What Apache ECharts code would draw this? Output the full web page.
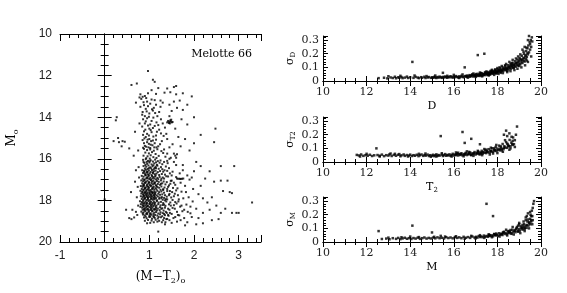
<!DOCTYPE html>
<html><head><meta charset="utf-8">
<script src="https://cdn.jsdelivr.net/npm/echarts@6/dist/echarts.min.js"></script>
<style>html,body{margin:0;padding:0;background:#fff}#c{width:567px;height:293px}</style>
</head><body><div id="c"></div>
<script>
// ---- Data ----
// CMD of Melotte 66: [colour (M-T2)o, magnitude Mo]
const cmdStars = [
[0.88,15.52],[0.95,15.58],[1.02,15.55],[1.10,15.61],[1.18,15.54],[1.27,15.63],[0.91,15.70],[0.99,15.74],[1.06,15.68],[1.14,15.77],[1.31,15.72],[0.87,15.85],[0.96,15.88],[1.03,15.83],[1.09,15.92],[1.21,15.86],[1.36,15.90],[0.93,15.97],[1.01,15.99],[1.16,15.96],
[0.86,16.05],[0.92,16.02],[0.97,16.10],[1.03,16.07],[1.08,16.13],[1.13,16.04],[1.19,16.11],[1.25,16.08],[1.33,16.15],[0.89,16.20],[0.95,16.24],[1.00,16.18],[1.05,16.27],[1.11,16.22],[1.17,16.29],[1.23,16.19],[1.29,16.26],[1.41,16.21],[0.87,16.35],[0.93,16.38],[0.98,16.32],[1.02,16.41],[1.07,16.36],[1.12,16.44],[1.18,16.33],[1.26,16.40],[1.37,16.37],[0.90,16.47],[0.96,16.49],[1.04,16.46],[1.10,16.50],[1.21,16.48],
[0.84,16.55],[0.88,16.58],[0.92,16.53],[0.95,16.61],[0.99,16.56],[1.03,16.63],[1.06,16.54],[1.10,16.60],[1.14,16.57],[1.19,16.64],[1.24,16.59],[1.31,16.62],[1.40,16.58],[0.86,16.68],[0.90,16.72],[0.94,16.67],[0.97,16.75],[1.01,16.70],[1.05,16.77],[1.08,16.69],[1.12,16.74],[1.16,16.71],[1.22,16.78],[1.28,16.73],[1.35,16.76],[1.46,16.70],[0.83,16.82],[0.87,16.86],[0.91,16.80],[0.95,16.89],[0.98,16.84],[1.02,16.91],[1.06,16.83],[1.09,16.88],[1.13,16.85],[1.18,16.92],[1.23,16.87],[1.30,16.90],[1.38,16.84],[0.85,16.96],[0.89,16.99],[0.93,16.94],[1.00,16.97],[1.04,17.00],[1.11,16.95],[1.20,16.98],[1.27,16.96],
[0.82,17.04],[0.86,17.08],[0.89,17.02],[0.93,17.10],[0.96,17.05],[0.99,17.12],[1.03,17.03],[1.06,17.09],[1.09,17.06],[1.13,17.13],[1.17,17.07],[1.21,17.11],[1.26,17.04],[1.32,17.09],[1.39,17.12],[1.48,17.06],[0.84,17.18],[0.88,17.22],[0.91,17.16],[0.95,17.24],[0.98,17.19],[1.01,17.26],[1.05,17.17],[1.08,17.23],[1.12,17.20],[1.15,17.27],[1.19,17.21],[1.24,17.25],[1.29,17.18],[1.36,17.23],[1.44,17.28],[0.81,17.31],[0.85,17.35],[0.88,17.30],[0.92,17.38],[0.96,17.33],[0.99,17.40],[1.03,17.32],[1.07,17.37],[1.10,17.34],[1.14,17.41],[1.18,17.36],[1.22,17.39],[1.27,17.33],[1.34,17.38],[1.42,17.35],[0.83,17.45],[0.87,17.48],[0.90,17.44],[0.94,17.49],[0.97,17.46],[1.02,17.50],[1.06,17.45],[1.11,17.48],[1.16,17.47],[1.25,17.49],[1.31,17.46],
[0.80,17.54],[0.84,17.58],[0.87,17.52],[0.90,17.60],[0.93,17.55],[0.96,17.62],[0.99,17.53],[1.02,17.59],[1.05,17.56],[1.08,17.63],[1.11,17.57],[1.14,17.61],[1.18,17.54],[1.22,17.60],[1.27,17.57],[1.33,17.63],[1.40,17.55],[1.51,17.60],[0.82,17.67],[0.86,17.71],[0.89,17.66],[0.92,17.73],[0.95,17.68],[0.98,17.75],[1.01,17.69],[1.04,17.72],[1.07,17.67],[1.10,17.74],[1.13,17.70],[1.16,17.76],[1.20,17.68],[1.24,17.73],[1.29,17.71],[1.35,17.75],[1.45,17.69],[0.81,17.80],[0.85,17.84],[0.88,17.79],[0.91,17.86],[0.94,17.81],[0.97,17.88],[1.00,17.82],[1.03,17.85],[1.06,17.80],[1.09,17.87],[1.12,17.83],[1.15,17.89],[1.19,17.81],[1.23,17.86],[1.28,17.84],[1.33,17.88],[1.39,17.82],[1.49,17.86],[0.83,17.93],[0.87,17.96],[0.90,17.92],[0.94,17.98],[0.97,17.94],[1.01,17.99],[1.04,17.93],[1.08,17.97],[1.12,17.95],[1.17,17.99],[1.22,17.92],[1.30,17.97],[1.37,17.94],
[0.79,18.04],[0.83,18.08],[0.86,18.02],[0.89,18.10],[0.92,18.05],[0.95,18.12],[0.98,18.03],[1.01,18.09],[1.04,18.06],[1.07,18.13],[1.10,18.07],[1.13,18.11],[1.17,18.04],[1.21,18.10],[1.26,18.07],[1.31,18.13],[1.38,18.05],[1.47,18.10],[1.58,18.08],[0.81,18.18],[0.85,18.22],[0.88,18.16],[0.91,18.24],[0.94,18.19],[0.97,18.26],[1.00,18.17],[1.03,18.23],[1.06,18.20],[1.09,18.27],[1.12,18.21],[1.16,18.25],[1.20,18.18],[1.25,18.24],[1.30,18.22],[1.36,18.26],[1.44,18.19],[1.55,18.23],[0.80,18.31],[0.84,18.35],[0.87,18.30],[0.90,18.38],[0.93,18.33],[0.96,18.40],[1.00,18.32],[1.03,18.37],[1.07,18.34],[1.11,18.41],[1.15,18.36],[1.19,18.39],[1.24,18.33],[1.29,18.38],[1.35,18.35],[1.42,18.40],[1.52,18.36],[0.85,18.45],[0.89,18.48],[0.93,18.44],[0.98,18.49],[1.02,18.46],[1.06,18.50],[1.11,18.45],[1.17,18.48],[1.23,18.47],[1.32,18.49],
[0.82,18.54],[0.87,18.58],[0.91,18.52],[0.95,18.60],[0.99,18.55],[1.03,18.62],[1.07,18.53],[1.11,18.59],[1.15,18.56],[1.20,18.63],[1.25,18.57],[1.30,18.61],[1.37,18.55],[1.46,18.60],[0.86,18.68],[0.90,18.72],[0.95,18.66],[1.00,18.74],[1.04,18.69],[1.09,18.75],[1.13,18.70],[1.18,18.73],[1.24,18.67],[1.29,18.76],[1.35,18.71],[1.43,18.74],[0.88,18.82],[0.94,18.86],[1.00,18.80],[1.06,18.88],[1.12,18.84],[1.19,18.87],[1.26,18.81],[1.33,18.85],[1.40,18.89],[0.97,18.94],[1.05,18.97],[1.14,18.93],[1.22,18.98],[1.31,18.95],
[1.52,16.62],[1.60,16.88],[1.55,17.15],[1.63,17.42],[1.57,17.68],[1.66,17.95],[1.61,18.15],[1.69,18.30],[1.74,18.52],[1.64,18.70],[1.78,18.45],[1.83,18.20],[1.88,17.85],[1.72,17.58],[1.80,17.30],[1.92,18.62],[1.97,18.05],[1.54,18.85],[1.62,19.02],[1.50,19.08],[1.70,18.95],
[0.72,17.85],[0.75,18.25],[0.70,18.55],[0.66,18.82],[0.62,18.45],[0.74,17.35],[0.77,16.90],[0.76,16.40],[0.55,18.85],[0.68,17.10],[0.73,18.70],[0.59,17.60],
[0.85,13.02],[0.90,12.98],[0.78,13.05],[0.95,13.25],[0.88,13.42],[1.02,13.35],[1.12,13.18],[1.25,13.50],[0.92,13.60],[0.85,13.75],[1.00,13.82],[1.08,13.68],[1.18,13.95],[0.95,14.05],[1.05,14.18],[0.90,14.30],[1.12,14.42],[1.00,14.55],[0.88,14.68],[0.95,14.80],[1.05,14.72],[1.15,14.88],[1.22,14.60],[0.92,14.95],[1.00,15.05],[1.08,15.12],[0.95,15.20],[1.03,15.32],[1.12,15.25],[1.20,15.40],[0.90,15.38],[0.98,15.45],[1.28,15.15],[1.32,14.90],[0.85,15.10],[1.10,13.55],[0.97,12.85],[0.90,13.95],[1.16,14.25],[1.26,14.10],[1.35,14.50],[1.40,15.05],[1.30,13.30],[1.34,12.82],[1.45,13.40],[1.55,13.25],[1.62,13.55],
[1.42,14.18],[1.45,14.22],[1.48,14.20],[1.44,14.28],[1.50,14.25],[1.47,14.15],[1.52,14.23],[1.40,14.25],[1.46,14.30],[1.49,14.12],
[0.97,11.78],[1.08,12.20],[1.12,12.30],[0.72,12.38],[0.60,12.45],[1.20,12.60],[1.40,12.62],[1.55,12.55],[1.60,12.50],[1.75,12.85],[1.47,12.80],[1.15,12.88],[1.05,12.70],[0.80,12.90],[1.95,13.00],[1.68,13.20],[1.75,13.65],[1.85,14.35],[2.00,14.00],[2.00,15.25],[2.45,15.20],[2.48,14.55],[2.15,14.85],[1.90,15.60],[1.62,15.78],[1.75,16.30],[2.05,16.15],[2.15,16.35],[2.60,16.35],[2.90,16.35],[2.00,16.60],[2.25,16.95],[2.45,17.10],[2.60,17.05],[2.75,17.05],[2.65,17.55],[2.40,17.85],[2.85,17.65],[2.20,17.90],[2.30,18.10],[2.50,18.25],[2.60,18.60],[2.70,18.40],[2.85,18.60],[2.95,18.60],[3.00,18.60],[3.30,18.10],[2.10,18.85],[2.40,18.95],[2.20,19.10],[2.05,19.15],[1.80,19.20],[1.20,19.50],[1.35,19.15],[0.95,19.10],[0.60,18.90],[0.48,18.45],[0.00,17.95],[0.27,14.00],[0.25,14.15],[0.30,15.00],[0.32,15.20],[0.38,15.40],[0.45,15.18],[0.40,15.15],[0.20,15.15],[0.65,15.85],[0.55,15.50],[0.70,16.55],[0.78,14.30],[2.80,17.60],[1.90,17.00],[1.58,15.85],[1.60,15.95],[1.55,15.75],
[1.62,16.95],[1.65,16.96],[1.68,16.96],[1.70,16.97],[1.73,16.96],[1.76,16.95],
[0.82,13.12],[0.93,13.08],[1.05,13.15],[0.87,13.28],[1.15,13.40],[0.80,13.50],[0.97,13.47],[1.06,13.62],[0.84,13.88],[0.94,13.72],[1.13,13.80],[1.22,13.75],[0.99,13.98],[1.09,14.02],[0.86,14.10],[0.92,14.20],[1.02,14.35],[1.20,14.38],[0.84,14.45],[0.97,14.40],[1.08,14.52],[0.91,14.60],[1.03,14.62],[1.17,14.70],[0.86,14.85],[0.99,14.88],[1.09,14.93],[1.26,14.78],[0.89,15.02],[0.96,15.08],[1.04,15.15],[1.15,15.08],[0.88,15.25],[0.99,15.28],[1.07,15.35],[1.16,15.45],[0.93,15.42],[1.02,15.48],[1.11,15.45],[0.86,15.47],[1.24,15.30],[1.33,15.55],[1.40,15.75],[1.45,15.45],[1.38,14.80],[1.30,14.30],[1.25,13.20],[1.45,13.95],[1.58,14.55],[1.65,14.95],[1.52,15.30],[1.70,15.40],[1.80,15.05],[1.72,14.10],[1.50,13.70],[1.60,12.90],[1.85,13.40],[0.70,13.30],[0.68,14.70],[0.75,15.60],[1.95,16.90],[1.45,16.00],
[1.44,16.45],[1.50,16.80],[1.47,17.20],[1.53,17.40],[1.58,17.25],[1.46,17.55],[1.55,17.80],[1.60,17.52],[1.52,17.98],[1.65,18.05],[1.48,18.25],[1.57,18.40],[1.62,18.55],[1.50,18.65],[1.58,18.80],[1.45,18.95],[1.67,18.72],[1.72,18.25],[1.76,17.90],[1.82,17.60],[1.70,17.15],[1.86,18.55],[1.92,18.30],[1.78,18.85],[1.85,19.05],[1.95,18.80],[1.68,16.70],[1.75,16.55],[1.85,16.80],[1.42,18.70],[1.38,18.90],[1.36,19.05],[1.28,19.05],[1.18,19.02],[1.10,19.05],[1.02,19.08],[0.90,18.98],[1.60,16.30],[1.55,16.15],[1.48,15.95],[1.40,16.10],[1.34,16.55],[1.42,16.85],[1.40,17.45],[1.35,18.00],[1.45,18.45],[1.33,18.65],[1.50,17.05],[1.64,17.75],[2.10,17.70],[2.05,18.40],[2.20,18.60],[2.35,18.45],[2.55,18.90],[2.15,17.30],[2.35,16.60],[1.98,17.45],
[0.87,16.15],[0.94,16.15],[1.01,16.12],[1.15,16.17],[0.91,16.30],[1.09,16.31],[1.14,16.38],[0.99,16.45],[1.15,16.45],[0.89,16.63],[0.96,16.64],[1.08,16.65],[0.92,16.78],[0.99,16.79],[1.14,16.80],[0.96,16.93],[1.07,16.94],[1.15,16.99],[0.90,17.13],[1.00,17.15],[1.11,17.16],[0.86,17.27],[0.94,17.29],[1.04,17.28],[1.16,17.31],[0.90,17.40],[0.98,17.35],[1.08,17.42],[0.85,17.62],[0.92,17.64],[1.00,17.64],[1.06,17.61],[1.12,17.65],[0.87,17.75],[0.94,17.76],[1.03,17.77],[1.11,17.78],[0.89,17.89],[0.96,17.84],[1.05,17.90],[1.11,17.90],[0.85,18.13],[0.93,18.14],[1.02,18.15],[1.11,18.16],[0.87,18.27],[0.95,18.28],[1.04,18.29],[1.14,18.30],[0.88,18.42],[0.97,18.43],[1.05,18.42],[1.14,18.44],[0.85,18.62],[0.93,18.64],[1.01,18.65],[1.09,18.66],[0.92,18.78],[1.02,18.78],[1.10,18.80],[1.21,18.80],[1.27,18.40],[1.33,18.20],[1.27,17.90],[1.31,17.50],[1.26,17.20],[1.33,16.95],[1.29,16.50],[1.39,18.60],[1.40,17.95],[1.44,17.75]
];
// Photometric errors: [magnitude, sigma]
const errD = [
[12.55,0.021],[12.80,0.024],[12.95,0.019],[13.10,0.026],[13.20,0.022],[13.30,0.031],[13.35,0.020],[13.45,0.027],[13.50,0.024],[13.60,0.029],[13.65,0.021],[13.75,0.025],[13.85,0.032],[13.90,0.022],[14.00,0.027],[14.10,0.140],[14.15,0.023],[14.25,0.030],[14.35,0.025],[14.40,0.021],[14.50,0.028],[14.55,0.024],[14.65,0.031],[14.70,0.022],[14.80,0.026],[14.85,0.029],[14.95,0.023],[15.00,0.027],
[15.05,0.024],[15.10,0.030],[15.15,0.026],[15.20,0.022],[15.25,0.029],[15.30,0.025],[15.35,0.032],[15.40,0.027],[15.45,0.023],[15.50,0.030],[15.55,0.026],[15.60,0.033],[15.65,0.028],[15.70,0.024],[15.75,0.031],[15.80,0.027],[15.85,0.035],[15.90,0.029],[15.95,0.025],[16.00,0.032],[16.05,0.028],[16.10,0.036],[16.15,0.030],[16.20,0.026],[16.25,0.034],[16.30,0.029],[16.35,0.038],[16.40,0.031],[16.45,0.027],[16.50,0.100],[16.50,0.036],[15.50,0.060],
[16.55,0.033],[16.60,0.040],[16.62,0.029],[16.68,0.036],[16.72,0.043],[16.75,0.031],[16.80,0.038],[16.85,0.046],[16.88,0.033],[16.92,0.041],[16.96,0.036],[17.00,0.049],[17.03,0.035],[17.07,0.043],[17.10,0.190],[17.12,0.039],[17.15,0.052],[17.18,0.037],[17.22,0.046],[17.25,0.041],[17.28,0.056],[17.32,0.040],[17.35,0.050],[17.38,0.045],[17.40,0.200],[17.42,0.060],[17.45,0.043],[17.48,0.054],
[17.52,0.048],[17.55,0.064],[17.58,0.046],[17.60,0.057],[17.63,0.052],[17.66,0.069],[17.68,0.050],[17.71,0.062],[17.74,0.056],[17.77,0.074],[17.80,0.054],[17.83,0.067],[17.86,0.060],[17.89,0.080],[17.92,0.058],[17.95,0.072],[17.98,0.065],[18.00,0.086],[18.03,0.063],[18.06,0.078],[18.09,0.070],[18.12,0.093],[18.15,0.068],[18.18,0.084],[18.21,0.076],[18.24,0.100],[18.27,0.073],[18.30,0.090],[18.33,0.082],[18.36,0.108],[18.39,0.079],[18.42,0.097],[18.45,0.088],[18.48,0.116],
[18.51,0.085],[18.54,0.104],[18.57,0.095],[18.60,0.125],[18.62,0.090],[18.65,0.112],[18.68,0.102],[18.70,0.134],[18.73,0.097],[18.76,0.120],[18.79,0.110],[18.82,0.145],[18.84,0.105],[18.87,0.130],[18.90,0.118],[18.92,0.158],[18.95,0.113],[18.97,0.140],
[19.00,0.127],[19.02,0.170],[19.05,0.122],[19.08,0.152],[19.10,0.137],[19.12,0.185],[19.15,0.132],[19.18,0.165],[19.20,0.148],[19.22,0.200],[19.25,0.143],[19.28,0.180],[19.30,0.160],[19.32,0.220],[19.35,0.175],[19.38,0.240],[19.40,0.195],[19.42,0.260],[19.45,0.210],[19.48,0.285],[19.50,0.230],[19.53,0.300],[19.55,0.250],[19.58,0.320],[19.25,0.250],[19.40,0.300],[19.45,0.330],
[17.54,0.055],[17.62,0.060],[17.70,0.058],[17.78,0.065],[17.86,0.070],[17.94,0.066],[18.02,0.075],[18.10,0.080],[18.18,0.078],[18.26,0.088],[18.34,0.093],[18.42,0.090],[18.50,0.100],[18.58,0.110],[18.66,0.118],[18.74,0.115],[18.82,0.128],[18.90,0.135],[18.98,0.150],[19.06,0.160],[19.14,0.155],[19.22,0.170],[19.30,0.190],[19.38,0.205],[16.58,0.035],[16.78,0.040],[16.98,0.042],[17.18,0.045],[17.38,0.050],
[13.00,0.035],[13.55,0.038],[14.20,0.040],[14.75,0.036],[15.15,0.040],[15.70,0.038],[16.00,0.045],[16.25,0.022],[16.40,0.048],[16.65,0.025],[16.90,0.055],[17.00,0.030],[17.20,0.062],[17.30,0.034],[17.50,0.070],[17.60,0.040],[17.75,0.082],[17.85,0.045],[18.00,0.095],[18.05,0.052],[18.20,0.110],[18.25,0.058],[18.40,0.125],[18.45,0.065],[18.55,0.140],[18.60,0.072],[18.70,0.155],[18.78,0.080],[18.85,0.165],[18.92,0.090],[19.05,0.195],[19.10,0.100],[19.20,0.215],[19.27,0.115],[19.33,0.245],[19.40,0.140],[19.50,0.270],[19.55,0.180],[19.60,0.290],[19.15,0.230],[18.95,0.180],[18.65,0.130],[18.35,0.115],[18.10,0.100],[17.90,0.085],[17.70,0.075],[17.45,0.065],[17.25,0.058],[17.05,0.052],[16.85,0.048],[18.15,0.060],[18.45,0.075],[18.75,0.095],[19.00,0.110],[19.35,0.150],[17.65,0.048],[17.95,0.055]
];
const errT2 = [
[11.55,0.052],[11.65,0.048],[11.75,0.055],[11.85,0.045],[11.95,0.050],[12.05,0.046],[12.15,0.053],[12.25,0.044],[12.35,0.049],[12.45,0.100],[12.50,0.051],[12.60,0.046],[12.70,0.054],[12.80,0.043],[12.90,0.050],[13.00,0.047],[13.05,0.056],[13.15,0.044],[13.25,0.052],[13.30,0.060],[13.35,0.046],[13.45,0.053],[13.55,0.042],[13.60,0.049],[13.70,0.055],[13.75,0.045],[13.85,0.051],[13.95,0.047],
[14.00,0.054],[14.08,0.044],[14.15,0.050],[14.22,0.046],[14.30,0.053],[14.38,0.043],[14.45,0.049],[14.52,0.055],[14.60,0.045],[14.66,0.051],[14.72,0.047],[14.80,0.054],[14.86,0.044],[14.92,0.050],[15.00,0.046],[15.05,0.053],[15.10,0.043],[15.15,0.049],[15.20,0.056],[15.25,0.045],[15.30,0.051],[15.35,0.047],[15.40,0.190],[15.45,0.054],[15.50,0.044],[15.55,0.050],[15.60,0.058],[15.65,0.046],[15.70,0.052],[15.75,0.048],[15.80,0.056],[15.85,0.045],[15.90,0.051],[15.95,0.060],
[16.00,0.047],[16.05,0.055],[16.10,0.050],[16.15,0.062],[16.20,0.048],[16.25,0.057],[16.30,0.052],[16.35,0.064],[16.40,0.220],[16.40,0.049],[16.45,0.058],[16.50,0.140],[16.50,0.054],[16.55,0.067],[16.60,0.051],[16.65,0.060],[16.70,0.056],[16.75,0.070],[16.80,0.170],[16.80,0.053],[16.85,0.063],[16.90,0.058],[16.95,0.073],
[17.00,0.055],[17.04,0.066],[17.08,0.061],[17.12,0.077],[17.16,0.058],[17.20,0.130],[17.20,0.070],[17.24,0.064],[17.28,0.082],[17.32,0.061],[17.36,0.074],[17.40,0.068],[17.44,0.088],[17.48,0.065],[17.52,0.079],[17.56,0.072],[17.60,0.094],[17.64,0.069],[17.68,0.084],[17.72,0.077],[17.76,0.101],[17.80,0.074],[17.84,0.090],[17.88,0.083],[17.92,0.110],[17.96,0.080],
[18.00,0.098],[18.04,0.088],[18.08,0.120],[18.12,0.086],[18.16,0.106],[18.20,0.096],[18.24,0.132],[18.28,0.094],[18.32,0.116],[18.36,0.106],[18.40,0.146],[18.44,0.104],[18.48,0.128],[18.52,0.118],[18.56,0.162],[18.60,0.116],[18.64,0.142],[18.68,0.132],[18.72,0.180],[18.76,0.130],[18.80,0.160],[18.85,0.200],[18.40,0.230],[18.55,0.210],[18.90,0.260],[18.30,0.200],
[16.12,0.056],[16.32,0.058],[16.52,0.060],[16.72,0.062],[16.92,0.064],[17.10,0.068],[17.30,0.070],[17.50,0.074],[17.70,0.080],[17.90,0.088],[18.10,0.095],[18.30,0.104],[18.50,0.115],[18.70,0.125],
[12.00,0.060],[12.60,0.040],[13.10,0.062],[13.90,0.040],[14.40,0.060],[14.95,0.038],[15.45,0.064],[15.90,0.040],[16.20,0.068],[16.45,0.042],[16.70,0.074],[16.90,0.045],[17.10,0.082],[17.30,0.050],[17.50,0.090],[17.65,0.055],[17.85,0.100],[18.00,0.065],[18.15,0.115],[18.25,0.075],[18.45,0.135],[18.55,0.090],[18.70,0.155],[18.80,0.110],[18.65,0.185],[18.35,0.160],[17.95,0.125],[17.70,0.105],[17.40,0.095],[16.60,0.078],[16.10,0.070],[18.20,0.085],[18.60,0.100],[17.80,0.062],[17.20,0.056],[16.80,0.050],[15.20,0.040],[14.70,0.062],[13.50,0.058],[11.70,0.040],[18.45,0.190]
];
const errM = [
[12.55,0.080],[12.70,0.022],[12.90,0.025],[13.05,0.020],[13.20,0.028],[13.35,0.023],[13.45,0.030],[13.55,0.021],[13.65,0.026],[13.75,0.031],[13.85,0.024],[13.95,0.028],[14.05,0.022],[14.10,0.120],[14.15,0.029],[14.25,0.025],[14.35,0.032],[14.45,0.023],[14.55,0.028],[14.65,0.033],[14.75,0.025],[14.85,0.030],[14.95,0.026],[15.00,0.070],[15.05,0.032],[15.15,0.027],[15.25,0.034],[15.35,0.028],[15.45,0.031],[15.55,0.026],[15.65,0.035],[15.75,0.029],[15.85,0.033],[15.95,0.027],[16.05,0.036],[16.15,0.030],[16.25,0.034],[16.35,0.028],[16.45,0.038],[16.55,0.031],[16.65,0.036],[16.75,0.030],[16.85,0.040],[16.95,0.033],
[17.02,0.038],[17.08,0.032],[17.14,0.043],[17.20,0.036],[17.26,0.041],[17.32,0.035],[17.38,0.047],[17.44,0.039],[17.50,0.280],[17.50,0.044],[17.56,0.038],[17.62,0.052],[17.68,0.043],[17.74,0.049],[17.80,0.190],[17.80,0.042],[17.86,0.058],[17.92,0.048],[17.98,0.054],
[18.03,0.046],[18.08,0.064],[18.13,0.053],[18.18,0.060],[18.23,0.051],[18.28,0.071],[18.33,0.059],[18.38,0.066],[18.43,0.057],[18.48,0.080],[18.53,0.065],[18.58,0.074],[18.63,0.064],[18.68,0.090],[18.73,0.073],[18.78,0.083],[18.83,0.072],[18.88,0.102],[18.93,0.082],[18.98,0.094],
[19.02,0.081],[19.06,0.115],[19.10,0.093],[19.14,0.106],[19.18,0.092],[19.22,0.130],[19.26,0.105],[19.30,0.120],[19.34,0.104],[19.38,0.150],[19.42,0.120],[19.46,0.138],[19.50,0.170],[19.52,0.200],[19.55,0.150],[19.58,0.230],[19.60,0.190],[19.62,0.250],[19.65,0.280],[19.68,0.300],[19.40,0.210],[19.30,0.180],
[17.60,0.046],[17.90,0.052],[18.20,0.058],[18.50,0.070],[18.80,0.085],[19.10,0.105],[19.20,0.112],[19.35,0.125],[19.45,0.145],[18.95,0.120],[18.70,0.110],[18.40,0.090],[19.00,0.140],[19.30,0.160],[19.50,0.130],[19.55,0.160],
[13.00,0.032],[13.60,0.035],[14.40,0.036],[15.10,0.038],[15.60,0.040],[16.10,0.042],[16.50,0.024],[16.80,0.045],[17.00,0.026],[17.20,0.050],[17.40,0.030],[17.60,0.056],[17.75,0.035],[17.95,0.062],[18.10,0.040],[18.30,0.075],[18.45,0.048],[18.60,0.088],[18.75,0.055],[18.90,0.110],[19.05,0.065],[19.15,0.125],[19.25,0.080],[19.40,0.165],[19.45,0.100],[19.55,0.190],[19.60,0.130],[19.50,0.220],[19.35,0.190],[19.20,0.150],[19.00,0.130],[18.85,0.095],[18.55,0.080],[18.25,0.068],[17.85,0.058],[17.65,0.050],[18.65,0.060],[18.95,0.075],[19.25,0.095],[19.62,0.160],[15.40,0.045],[14.00,0.040]
];
const clusterName = 'Melotte 66';
const errPanels = [
  {data: errD,  xName: 'D',  ySub: 'D'},
  {data: errT2, xName: 'T2', ySub: 'T2'},
  {data: errM,  xName: 'M',  ySub: 'M'}
];

// ---- Chart ----
const chart = echarts.init(document.getElementById('c'), null, {renderer: 'canvas'});
const SERIF = "'DejaVu Serif', 'Liberation Serif', serif";
const SANS = "'Liberation Sans', 'DejaVu Sans', sans-serif";
const black = '#000';

const grids = [{left: 60, width: 201, top: 34, height: 208}];
const rightTops = [36, 117, 197];
rightTops.forEach(t => grids.push({left: 323, width: 218, top: t, height: 45}));

const xAxes = [], yAxes = [], series = [];
function tickCfg(major, minor, split) {
  return {
    axisLine: {show: true, lineStyle: {color: black, width: 1}},
    axisTick: {show: true, inside: true, length: major, lineStyle: {color: black}},
    minorTick: {show: true, splitNumber: split, length: minor, lineStyle: {color: black}},
    splitLine: {show: false}
  };
}
const subRich = (big, small, lh, pad) => ({
  a: {fontFamily: SERIF, fontSize: big, color: black, lineHeight: lh},
  s: {fontFamily: SERIF, fontSize: small, color: black, lineHeight: lh, verticalAlign: 'bottom', padding: [pad,0,0,0]}
});
// left panel
xAxes.push(Object.assign({gridIndex: 0, type: 'value', min: -1, max: 3.5, interval: 1, position: 'bottom',
  axisLabel: {color: '#222', fontFamily: SANS, fontSize: 12, margin: 8, showMaxLabel: false},
  name: '{a|(M−T}{s|2}{a|)}{s|o}', nameLocation: 'middle', nameGap: 27,
  nameTextStyle: {rich: subRich(12, 8, 16, 6)}
}, tickCfg(7, 4, 5)));
xAxes.push(Object.assign({gridIndex: 0, type: 'value', min: -1, max: 3.5, interval: 1, position: 'top', axisLabel: {show: false}}, tickCfg(7, 4, 5)));
yAxes.push(Object.assign({gridIndex: 0, type: 'value', min: 10, max: 20, interval: 2, inverse: true, position: 'left',
  axisLabel: {color: '#222', fontFamily: SANS, fontSize: 12, margin: 8},
  name: '{a|M}{s|o}', nameLocation: 'middle', nameGap: 40, nameRotate: 90,
  nameTextStyle: {rich: subRich(12, 8, 16, 6)}
}, tickCfg(7, 4, 4)));
yAxes.push(Object.assign({gridIndex: 0, type: 'value', min: 10, max: 20, interval: 2, inverse: true, position: 'right', axisLabel: {show: false}}, tickCfg(7, 4, 4)));
series.push({type: 'scatter', xAxisIndex: 0, yAxisIndex: 0, data: cmdStars, symbol: 'rect', symbolSize: 2,
  itemStyle: {color: black}, silent: true, animation: false});

// right panels
errPanels.forEach((p, i) => {
  const g = i + 1;
  const nm = p.xName.length > 1 ? '{a|' + p.xName[0] + '}{s|' + p.xName.slice(1) + '}' : '{a|' + p.xName + '}';
  xAxes.push(Object.assign({gridIndex: g, type: 'value', min: 10, max: 20, interval: 2, position: 'bottom',
    axisLabel: {color: '#222', fontFamily: SERIF, fontSize: 11, margin: 6},
    name: nm, nameLocation: 'middle', nameGap: 18,
    nameTextStyle: {rich: subRich(11, 7, 14, 5)}
  }, tickCfg(5, 3, 4)));
  const xi = xAxes.length - 1;
  xAxes.push(Object.assign({gridIndex: g, type: 'value', min: 10, max: 20, interval: 2, position: 'top', axisLabel: {show: false}}, tickCfg(5, 3, 4)));
  yAxes.push(Object.assign({gridIndex: g, type: 'value', min: 0, max: 0.33, interval: 0.1, position: 'left',
    axisLabel: {color: '#222', fontFamily: SERIF, fontSize: 11, margin: 4, showMaxLabel: false,
      formatter: v => v === 0 ? '0' : v.toFixed(1)},
    name: '{a|σ}{s|' + p.ySub + '}', nameLocation: 'middle', nameGap: 26, nameRotate: 90,
    nameTextStyle: {rich: subRich(11, 7, 14, 5)}
  }, tickCfg(5, 3, 5)));
  const yi = yAxes.length - 1;
  yAxes.push(Object.assign({gridIndex: g, type: 'value', min: 0, max: 0.33, interval: 0.1, position: 'right', axisLabel: {show: false}}, tickCfg(5, 3, 5)));
  series.push({type: 'scatter', xAxisIndex: xi, yAxisIndex: yi, data: p.data, symbol: 'rect', symbolSize: 2.5,
    itemStyle: {color: black}, silent: true, animation: false});
});

chart.setOption({
  animation: false,
  backgroundColor: '#fff',
  grid: grids,
  xAxis: xAxes,
  yAxis: yAxes,
  series: series,
  graphic: [{type: 'text', right: 315, top: 49, style: {text: clusterName, fontFamily: SERIF, fontSize: 11, fill: black}}]
});
</script></body></html>
